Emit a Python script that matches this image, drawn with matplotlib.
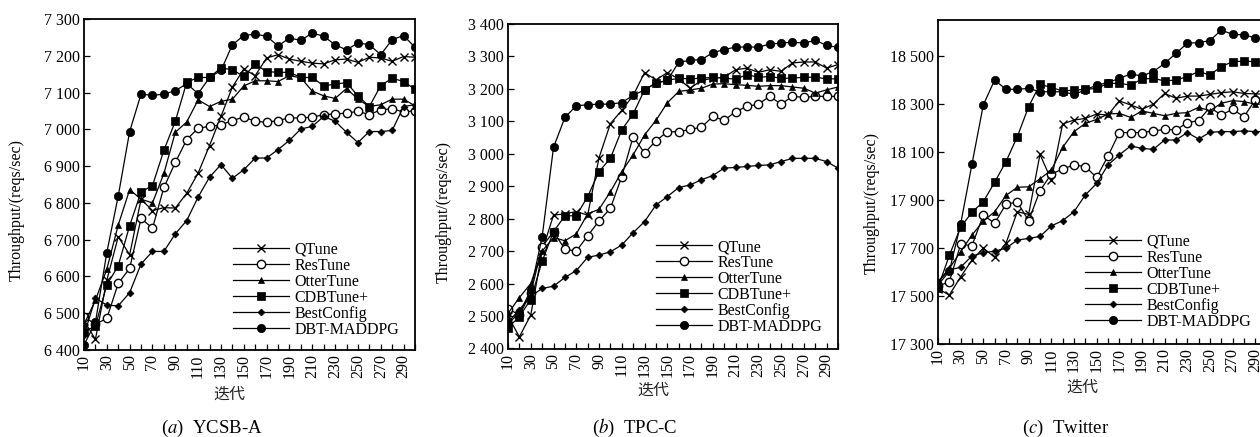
import matplotlib
matplotlib.use("Agg")
import matplotlib.pyplot as plt
from matplotlib.ticker import FixedLocator, FixedFormatter

plt.rcParams['font.family'] = ['Liberation Serif', 'Noto Sans CJK SC']
plt.rcParams['mathtext.fontset'] = 'stix'

iterations = list(range(10, 301, 10))
series_names = ["QTune", "ResTune", "OtterTune", "CDBTune+", "BestConfig", "DBT-MADDPG"]

# (a) YCSB-A
qtune_a = [6480, 6429, 6590, 6708, 6659, 6810, 6779, 6787, 6786, 6826, 6881, 6956, 7035, 7115, 7164,
           7146, 7194, 7203, 7191, 7185, 7180, 7178, 7189, 7191, 7182, 7196, 7194, 7185, 7198, 7196]
restune_a = [6490, 6470, 6486, 6581, 6622, 6758, 6731, 6842, 6910, 6972, 7003, 7008, 7012, 7024, 7033,
             7022, 7019, 7024, 7031, 7031, 7033, 7040, 7042, 7044, 7049, 7040, 7053, 7056, 7047, 7051]
ottertune_a = [6470, 6535, 6620, 6740, 6836, 6810, 6800, 6880, 6992, 7020, 7080, 7062, 7076, 7082, 7118,
               7132, 7132, 7130, 7146, 7140, 7104, 7091, 7084, 7111, 7082, 7062, 7067, 7082, 7082, 7064]
cdbtune_a = [6450, 6465, 6577, 6629, 6738, 6830, 6847, 6943, 7022, 7128, 7141, 7141, 7167, 7162, 7144,
             7177, 7157, 7155, 7155, 7141, 7141, 7118, 7123, 7127, 7091, 7062, 7119, 7139, 7130, 7109]
bestconfig_a = [6440, 6541, 6522, 6520, 6556, 6634, 6668, 6668, 6716, 6752, 6816, 6870, 6904, 6867, 6890,
                6922, 6922, 6945, 6970, 7001, 7008, 7035, 7022, 6992, 6964, 6994, 6994, 6997, 7062, 7067]
dbt_a = [6414, 6475, 6665, 6819, 6994, 7096, 7092, 7096, 7105, 7124, 7097, 7141, 7160, 7230, 7255,
         7259, 7253, 7227, 7248, 7242, 7262, 7253, 7230, 7216, 7235, 7230, 7203, 7244, 7255, 7223]

# (b) TPC-C
qtune_b = [2500, 2436, 2503, 2700, 2811, 2815, 2822, 2811, 2988, 3093, 3134, 3180, 3250, 3228, 3250,
           3231, 3202, 3226, 3233, 3236, 3259, 3264, 3251, 3259, 3254, 3280, 3283, 3283, 3264, 3275]
restune_b = [2523, 2503, 2570, 2714, 2760, 2706, 2700, 2747, 2793, 2832, 2930, 3053, 3002, 3040, 3068,
             3068, 3075, 3082, 3115, 3103, 3130, 3146, 3153, 3177, 3153, 3177, 3174, 3177, 3177, 3177]
ottertune_b = [2508, 2557, 2600, 2700, 2742, 2732, 2753, 2815, 2829, 2883, 2945, 2997, 3058, 3103, 3157,
               3192, 3197, 3202, 3215, 3216, 3213, 3211, 3208, 3210, 3210, 3206, 3202, 3187, 3197, 3206]
cdbtune_b = [2464, 2498, 2551, 2669, 2760, 2809, 2809, 2868, 2945, 2986, 3074, 3123, 3197, 3218, 3226,
             3233, 3231, 3233, 3236, 3233, 3230, 3244, 3236, 3238, 3233, 3233, 3236, 3236, 3231, 3231]
bestconfig_b = [2480, 2520, 2561, 2585, 2592, 2619, 2640, 2681, 2688, 2698, 2719, 2757, 2791, 2842, 2868,
                2896, 2904, 2920, 2933, 2956, 2958, 2961, 2964, 2966, 2976, 2986, 2986, 2986, 2976, 2956]
dbt_b = [2478, 2508, 2580, 2744, 3020, 3112, 3148, 3151, 3153, 3153, 3158, 3180, 3197, 3218, 3226,
         3282, 3288, 3290, 3312, 3321, 3329, 3329, 3329, 3338, 3341, 3344, 3341, 3350, 3334, 3328]

# (c) Twitter
qtune_c = [17530, 17504, 17580, 17650, 17700, 17661, 17720, 17851, 17840, 18090, 17983, 18217, 18233, 18240, 18258,
           18254, 18313, 18296, 18278, 18299, 18344, 18324, 18333, 18333, 18340, 18347, 18351, 18344, 18342, 18342]
restune_c = [17540, 17560, 17715, 17710, 17837, 17803, 17883, 17891, 17814, 17939, 18008, 18029, 18046, 18039, 17994,
             18083, 18181, 18181, 18181, 18188, 18194, 18192, 18222, 18231, 18286, 18254, 18278, 18247, 18317, 18320]
ottertune_c = [17560, 17615, 17685, 17754, 17812, 17851, 17919, 17953, 17955, 17988, 18025, 18119, 18185, 18219, 18236,
               18258, 18261, 18244, 18271, 18261, 18251, 18261, 18264, 18286, 18272, 18303, 18314, 18310, 18299, 18300]
cdbtune_c = [17535, 17669, 17787, 17849, 17893, 17974, 18060, 18164, 18289, 18382, 18369, 18354, 18358, 18361, 18365,
             18386, 18386, 18379, 18404, 18407, 18396, 18400, 18414, 18435, 18421, 18456, 18476, 18479, 18476, 18476]
bestconfig_c = [17560, 17608, 17620, 17667, 17680, 17687, 17699, 17733, 17740, 17748, 17792, 17814, 17851, 17921, 17969,
                18046, 18088, 18125, 18115, 18111, 18150, 18150, 18181, 18154, 18182, 18185, 18185, 18188, 18185, 18185]
dbt_c = [17546, 17603, 17800, 18050, 18296, 18400, 18361, 18361, 18365, 18351, 18351, 18351, 18340, 18358, 18379,
         18389, 18407, 18425, 18417, 18435, 18469, 18511, 18553, 18556, 18564, 18608, 18590, 18588, 18576, 18570]

y_ticks_a = list(range(6400, 7301, 100))
y_ticks_b = list(range(2400, 3401, 100))
y_ticks_c = list(range(17300, 18501, 200))
captions = ["YCSB-A", "TPC-C", "Twitter"]
caption_letters = ["a", "b", "c"]
x_label = "迭代"
y_label = "Throughput/(reqs/sec)"

panels = [
    dict(data=[qtune_a, restune_a, ottertune_a, cdbtune_a, bestconfig_a, dbt_a], yticks=y_ticks_a,
         ylim=(6400, 7300)),
    dict(data=[qtune_b, restune_b, ottertune_b, cdbtune_b, bestconfig_b, dbt_b], yticks=y_ticks_b,
         ylim=(2400, 3400)),
    dict(data=[qtune_c, restune_c, ottertune_c, cdbtune_c, bestconfig_c, dbt_c], yticks=y_ticks_c,
         ylim=(17300, 18650)),
]

styles = [
    dict(marker='x', ms=6, mew=1.0, mfc='black'),
    dict(marker='o', ms=6, mew=1.0, mfc='white'),
    dict(marker='^', ms=5, mew=0.5, mfc='black'),
    dict(marker='s', ms=6, mew=0.5, mfc='black'),
    dict(marker='D', ms=3.5, mew=0.5, mfc='black'),
    dict(marker='o', ms=6, mew=0.5, mfc='black'),
]

W, H = 1260, 437
fig = plt.figure(figsize=(W / 100, H / 100), dpi=100)

# pixel boxes: left, right, top, bottom
boxes = [(84, 415, 19, 350), (508, 838, 24, 348.5), (938, 1266.6, 20, 344)]
ylabel_pos = [(25, 210), (452, 212), (880, 203)]
xlabel_pos = [(229, 395), (653, 391), (1082, 388)]
caption_pos = [(212, 428), (635, 428), (1066, 428)]
legend_pos = [(233, 338), (656, 335), (1085, 330)]

def fx(px):
    return px / W

def fy(py):
    return 1 - py / H

fs = 11.5
for i, p in enumerate(panels):
    l, r, t, b = boxes[i]
    ax = fig.add_axes([fx(l), fy(b), (r - l) / W, (b - t) / H])
    for name, vals, st in zip(series_names, p['data'], styles):
        ax.plot(iterations, vals, color='black', lw=0.9, label=name, mec='black', **st)
    ax.set_xlim(10, 300)
    ax.set_ylim(*p['ylim'])
    ax.xaxis.set_major_locator(FixedLocator(iterations))
    ax.xaxis.set_major_formatter(FixedFormatter([str(v) if (v - 10) % 20 == 0 and v < 300 else '' for v in iterations]))
    ax.set_yticks(p['yticks'])
    ax.set_yticklabels([f"{v // 1000} {v % 1000:03d}" for v in p['yticks']])
    ax.tick_params(axis='both', direction='in', length=4, width=0.9, labelsize=fs, pad=3)
    ax.tick_params(axis='x', labelrotation=90)
    for sp in ax.spines.values():
        sp.set_linewidth(1.3)
    ax.set_ylabel(y_label, fontsize=fs)
    ax.yaxis.set_label_coords((ylabel_pos[i][0] - l) / (r - l), (b - ylabel_pos[i][1]) / (b - t))
    leg = ax.legend(loc='lower left', bbox_to_anchor=((legend_pos[i][0] - l) / (r - l), (b - legend_pos[i][1]) / (b - t)),
                    frameon=False, fontsize=fs, handlelength=3.5, handletextpad=0.35, labelspacing=0.0,
                    borderpad=0, borderaxespad=0, numpoints=1)
    fig.text(fx(xlabel_pos[i][0]), fy(xlabel_pos[i][1]), x_label, fontsize=fs, ha='center', va='center',
             color='#222222')
    fig.text(fx(caption_pos[i][0]), fy(caption_pos[i][1]),
             f"($\\mathit{{{caption_letters[i]}}}$)  {captions[i]}", fontsize=13.5, ha='center', va='center')

fig.savefig("out.png", dpi=100)
